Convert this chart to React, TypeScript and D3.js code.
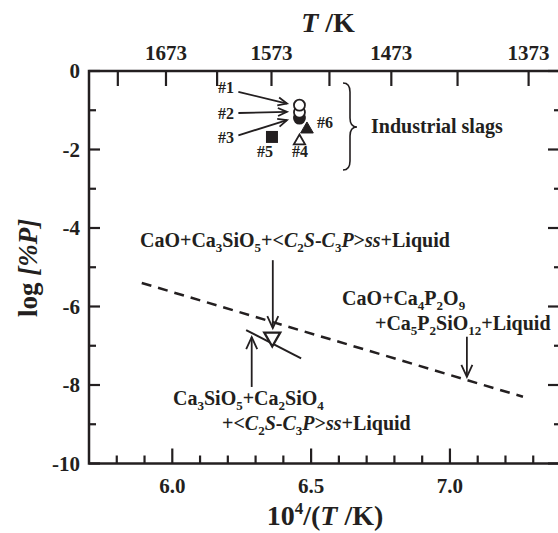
import React from "react";
import * as d3 from "d3";

// industrial slag points: 10^4/(T/K), log[%P]
const slagLabels = ["#1", "#2", "#3", "#4", "#5", "#6"];
const slagX = [6.458, 6.458, 6.458, 6.458, 6.359, 6.485];
const slagY = [-0.87, -1.05, -1.2, -1.76, -1.68, -1.46];
const slagShape = ["circleOpen", "circleOpen", "circleFilled", "triOpen", "square", "triFilled"];

// invariant point (open down triangle) and boundary lines
const invX = [6.36];
const invY = [-6.81];
const dashX = [5.89, 7.263];
const dashY = [-5.4, -8.3];
const solidX = [6.266, 6.464];
const solidY = [-6.6, -7.32];

// arrows [x1, y1, x2, y2] in data units
const slagArrows = [
  [6.238, -0.53, 6.413, -0.83],
  [6.238, -1.07, 6.413, -1.04],
  [6.238, -1.64, 6.413, -1.25],
];
const phaseArrows = [
  [6.362, -4.82, 6.362, -6.55],
  [6.286, -8.05, 6.286, -6.78],
  [7.061, -6.77, 7.061, -7.79],
];

const xTicks = [6.0, 6.5, 7.0];
const xMinor = [5.8, 5.9, 6.1, 6.2, 6.3, 6.4, 6.6, 6.7, 6.8, 6.9, 7.1, 7.2, 7.3];
const yTicks = [0, -2, -4, -6, -8, -10];
const yMinor = [-1, -3, -5, -7, -9];
const topLabels = [1673, 1573, 1473, 1373];
const topAll = [1723, 1673, 1623, 1573, 1523, 1473, 1423, 1373];

// phase labels: n = normal, s = subscript, i = italic
const ssPart = [["<", "n"], ["C", "i"], ["2", "s"], ["S", "i"], ["-", "n"], ["C", "i"], ["3", "s"], ["P", "i"], [">", "n"], ["ss", "i"], ["+Liquid", "n"]];
const label1 = [["CaO+Ca", "n"], ["3", "s"], ["SiO", "n"], ["5", "s"], ["+", "n"], ...ssPart];
const label2a = [["CaO+Ca", "n"], ["4", "s"], ["P", "n"], ["2", "s"], ["O", "n"], ["9", "s"]];
const label2b = [["+Ca", "n"], ["5", "s"], ["P", "n"], ["2", "s"], ["SiO", "n"], ["12", "s"], ["+Liquid", "n"]];
const label3a = [["Ca", "n"], ["3", "s"], ["SiO", "n"], ["5", "s"], ["+Ca", "n"], ["2", "s"], ["SiO", "n"], ["4", "s"]];
const label3b = [["+", "n"], ...ssPart];

const margin = { top: 71, left: 89 };
const width = 472;
const height = 392.5;
const ink = "#231f20";
const font = "'Liberation Serif', 'Times New Roman', serif";

function Arrow({ a, x, y, len, half }: any) {
  const [x1, y1, x2, y2] = a;
  const px1 = x(x1), py1 = y(y1), px2 = x(x2), py2 = y(y2);
  const ang = Math.atan2(py2 - py1, px2 - px1);
  const hx = (s: number) => px2 - len * Math.cos(ang) + s * half * Math.sin(ang);
  const hy = (s: number) => py2 - len * Math.sin(ang) - s * half * Math.cos(ang);
  return (
    <g stroke={ink} fill="none" strokeWidth={1.8}>
      <line x1={px1} y1={py1} x2={px2} y2={py2} />
      <path d={`M${hx(1)},${hy(1)} L${px2},${py2} L${hx(-1)},${hy(-1)}`} />
    </g>
  );
}

function Rich({ parts, x, y }: any) {
  let off = 0;
  return (
    <text x={x} y={y}>
      {parts.map(([t, k]: string[], i: number) => {
        const target = k === "s" ? 5 : 0;
        const dy = target - off;
        off = target;
        return (
          <tspan key={i} dy={dy} fontSize={k === "s" ? 13 : undefined} fontStyle={k === "i" ? "italic" : undefined}>
            {t}
          </tspan>
        );
      })}
    </text>
  );
}

export default function App() {
  const x = d3.scaleLinear().domain([5.7, 7.4]).range([0, width]);
  const y = d3.scaleLinear().domain([-10, 0]).range([height, 0]);
  const tri = d3.symbol().type(d3.symbolTriangle);

  const marker = (i: number) => {
    const cx = x(slagX[i]);
    const cy = y(slagY[i]);
    const s = slagShape[i];
    if (s === "circleOpen") return <circle key={i} cx={cx} cy={cy} r={5.5} fill="#fff" stroke={ink} strokeWidth={1.8} />;
    if (s === "circleFilled") return <circle key={i} cx={cx} cy={cy} r={5.5} fill={ink} stroke={ink} strokeWidth={1.8} />;
    if (s === "square") return <rect key={i} x={cx - 6} y={cy - 6} width={12} height={12} fill={ink} />;
    const filled = s === "triFilled";
    return (
      <path key={i} d={tri.size(filled ? 70 : 55)() as string} transform={`translate(${cx},${cy + 1})`}
        fill={filled ? ink : "#fff"} stroke={ink} strokeWidth={filled ? 1 : 1.8} />
    );
  };

  const order = [2, 1, 0, 3, 4, 5];
  const dashLine = d3.line<number>().x((i) => x(dashX[i])).y((i) => y(dashY[i]));
  const solidLine = d3.line<number>().x((i) => x(solidX[i])).y((i) => y(solidY[i]));

  return (
    <svg width={558} height={533} style={{ position: "absolute", left: 0, top: 0 }} fontFamily={font} fontWeight="bold" fill={ink}>
      <text x={328} y={32} fontSize={28} textAnchor="middle"><tspan fontStyle="italic">T</tspan> /K</text>
      {topLabels.map((t) => (
        <text key={t} x={margin.left + x(1e4 / t)} y={60} fontSize={21} textAnchor="middle">{t}</text>
      ))}
      <text x={325} y={525} fontSize={28} textAnchor="middle">
        10<tspan fontSize={17} dy={-11}>4</tspan><tspan dy={11}>/(</tspan><tspan fontStyle="italic">T</tspan> /K)
      </text>
      <text transform="translate(37,268) rotate(-90)" fontSize={27} textAnchor="middle">
        log <tspan fontStyle="italic">[%P]</tspan>
      </text>

      <g transform={`translate(${margin.left},${margin.top})`}>
        <rect x={0} y={0} width={width} height={height} fill="none" stroke={ink} strokeWidth={2.5} />
        <g stroke={ink} strokeWidth={2.2}>
          {xTicks.map((t) => <line key={"b" + t} x1={x(t)} x2={x(t)} y1={height} y2={height - 15} />)}
          {xMinor.map((t) => <line key={"bm" + t} x1={x(t)} x2={x(t)} y1={height} y2={height - 8} />)}
          {topAll.map((t) => <line key={"t" + t} x1={x(1e4 / t)} x2={x(1e4 / t)} y1={0} y2={15} />)}
          {yTicks.map((t) => (
            <g key={"y" + t}>
              <line x1={0} x2={11} y1={y(t)} y2={y(t)} />
              <line x1={width} x2={width - 13} y1={y(t)} y2={y(t)} />
            </g>
          ))}
          {yMinor.map((t) => (
            <g key={"ym" + t}>
              <line x1={0} x2={7} y1={y(t)} y2={y(t)} />
              <line x1={width} x2={width - 7} y1={y(t)} y2={y(t)} />
            </g>
          ))}
        </g>
        {xTicks.map((t) => (
          <text key={"bl" + t} x={x(t)} y={height + 29} fontSize={21} textAnchor="middle">{t.toFixed(1)}</text>
        ))}
        {yTicks.map((t) => (
          <text key={"yl" + t} x={-9} y={y(t)} dy="0.35em" fontSize={21} textAnchor="end">{t}</text>
        ))}

        <path d={dashLine([0, 1]) as string} fill="none" stroke={ink} strokeWidth={2.5} strokeDasharray="10 7" />
        <path d={solidLine([0, 1]) as string} fill="none" stroke={ink} strokeWidth={2} />
        {invX.map((v, i) => (
          <path key={i} d={tri.size(110)() as string} transform={`translate(${x(v)},${y(invY[i]) - 1}) rotate(180)`}
            fill="#fff" stroke={ink} strokeWidth={2.3} />
        ))}

        {slagArrows.map((a, i) => <Arrow key={"sa" + i} a={a} x={x} y={y} len={9} half={4} />)}
        {phaseArrows.map((a, i) => <Arrow key={"pa" + i} a={a} x={x} y={y} len={12} half={5.5} />)}
        {order.map((i) => marker(i))}
      </g>

      {/* point labels */}
      <g fontSize={16}>
        <text x={218} y={93}>{slagLabels[0]}</text>
        <text x={218} y={119}>{slagLabels[1]}</text>
        <text x={218} y={143}>{slagLabels[2]}</text>
        <text x={292} y={157}>{slagLabels[3]}</text>
        <text x={257} y={157}>{slagLabels[4]}</text>
        <text x={317} y={128}>{slagLabels[5]}</text>
      </g>
      <path d="M343,83 Q350,83 350,92 L350,118 Q350,127 357,127 Q350,127 350,136 L350,161 Q350,170 343,170"
        fill="none" stroke={ink} strokeWidth={1.6} />
      <text x={371} y={133} fontSize={20}>Industrial slags</text>

      <g fontSize={20}>
        <Rich parts={label1} x={140} y={247} />
        <Rich parts={label2a} x={342} y={305} />
        <Rich parts={label2b} x={375} y={330} />
        <Rich parts={label3a} x={173} y={405} />
        <Rich parts={label3b} x={222} y={430} />
      </g>
    </svg>
  );
}
